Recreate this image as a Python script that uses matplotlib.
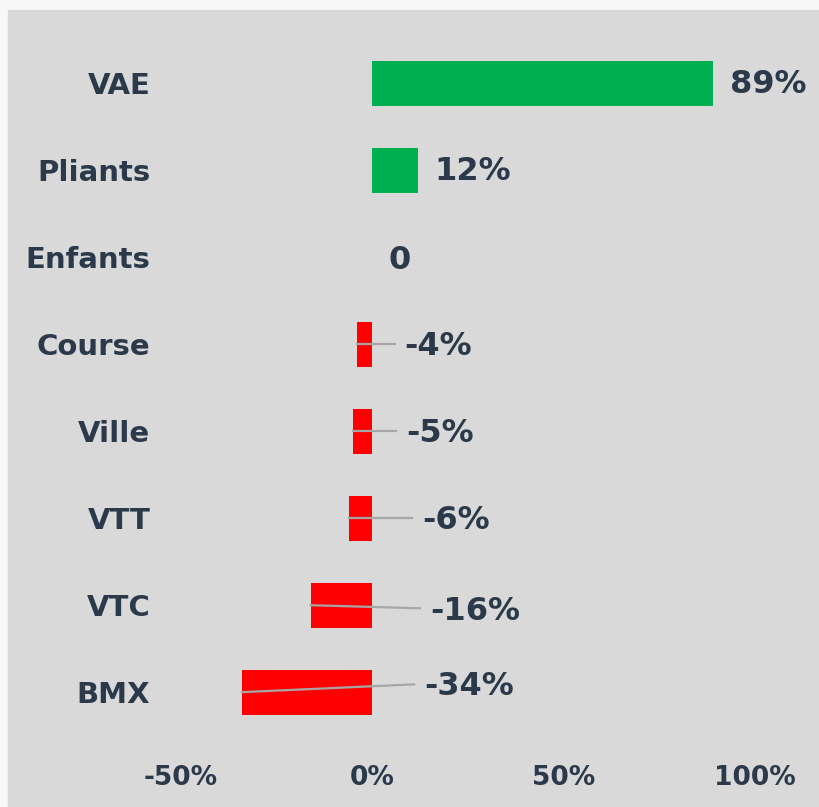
import matplotlib.pyplot as plt
import matplotlib.patches as patches

categories = ["VAE", "Pliants", "Enfants", "Course", "Ville", "VTT", "VTC", "BMX"]
values = [89, 12, 0, -4, -5, -6, -16, -34]
labels = ["89%", "12%", "0", "-4%", "-5%", "-6%", "-16%", "-34%"]
xticks = [-50, 0, 50, 100]
xticklabels = ["-50%", "0%", "50%", "100%"]

# label placement (data units) for the Excel-style leader lines
lab_x = [None, None, 7.3, 8.4, 8.9, 13.1, 15.1, 13.6]
lab_dy = [0, 0, 0.0, -0.01, -0.01, -0.01, 0.03, -0.1]
line_end = [None, None, None, 6.0, 6.3, 10.4, 12.5, 11.0]
line_dy = [0, 0, 0, 0, 0, 0, 0.035, -0.09]

txt = "#2b3a4b"
plt.rcParams['font.family'] = ['DejaVu Sans']

fig = plt.figure(figsize=(8.19, 8.07), dpi=100, facecolor="#f7f7f7")
bg = patches.Rectangle((8 / 819, 0), 1, (807 - 10) / 807,
                       transform=fig.transFigure, color="#d9d9d9", zorder=-10)
fig.patches.append(bg)
ax = fig.add_axes([160 / 819, (807 - 740) / 807, 640 / 819, 700 / 807])
ax.set_facecolor("none")
ax.set_zorder(5)

ypos = list(range(len(categories)))
colors = ["#00b050" if v > 0 else "#ff0000" for v in values]
ax.barh(ypos, values, height=0.52, color=colors, zorder=2)

for i, v in enumerate(values):
    if v > 0:
        ax.annotate(labels[i], (v, i), xytext=(12, 1.5), textcoords="offset points",
                    va="center_baseline", ha="left", fontsize=23, fontweight="bold", color=txt)
    elif v == 0:
        ax.text(lab_x[i], i + lab_dy[i], labels[i], va="center_baseline", ha="center",
                fontsize=23, fontweight="bold", color=txt)
    else:
        ax.plot([v, line_end[i]], [i, i + line_dy[i]], color="#a6a6a6", lw=1.6, zorder=3)
        ax.text(lab_x[i], i + lab_dy[i], labels[i], va="center_baseline", ha="left",
                fontsize=23, fontweight="bold", color=txt)

ax.set_xlim((160 - 372) / 3.83, (800 - 372) / 3.83)
ax.set_ylim(7.55, -0.5)
ax.set_yticks(ypos)
ax.set_yticklabels(categories, fontsize=21, fontweight="bold", color=txt)
for t in ax.get_yticklabels():
    t.set_verticalalignment("center_baseline")
ax.set_xticks(xticks)
ax.set_xticklabels(xticklabels, fontsize=19, fontweight="bold", color=txt)
ax.tick_params(axis="y", length=0, pad=7)
ax.tick_params(axis="x", length=0, pad=18)
for s in ax.spines.values():
    s.set_visible(False)

fig.savefig("out.png", dpi=100, facecolor=fig.get_facecolor())
